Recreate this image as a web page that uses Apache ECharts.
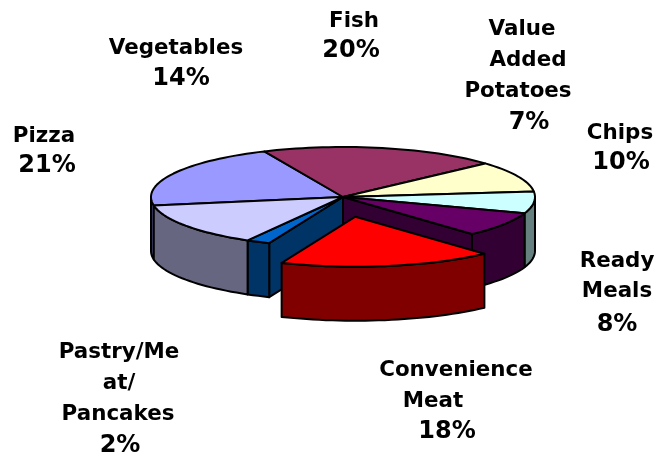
<!DOCTYPE html>
<html><head><meta charset="utf-8">
<style>html,body{margin:0;padding:0;background:#fff}#c{width:657px;height:459px}</style>
<script src="https://cdn.jsdelivr.net/npm/echarts@6/dist/echarts.min.js"></script>
</head><body><div id="c"></div>
<script>
// Data, clockwise from the first slice drawn
const categories = ['Pizza','Fish','Chips','Value Added Potatoes','Ready Meals','Convenience Meat','Pastry/Meat/ Pancakes','Vegetables'];
const values = [21,20,10,7,8,18,2,14];
const topColors = ['#9999FF','#993366','#FFFFCC','#CCFFFF','#660066','#FF0000','#0066CC','#CCCCFF'];
const wallColors = ['#4D4D80','#4D1A33','#808066','#668080','#330033','#800000','#003366','#666680'];
const explodedName = 'Convenience Meat';

// Label lines as printed in the reference: [text, centre x, centre y]
const labelLines = [
  ['Fish',354,21],['20%',351,51],
  ['Vegetables',176,48],['14%',181,79],
  ['Value',522,29],['Added',528,60],['Potatoes',518,91],['7%',529,123],
  ['Chips',620,133],['10%',621,163],
  ['Pizza',44,136],['21%',47,166],
  ['Ready',617,261],['Meals',617,291],['8%',617,325],
  ['Convenience',456,370],['Meat',433,401],['18%',447,432],
  ['Pastry/Me',119,352],['at/',119,383],['Pancakes',118,414],['2%',120,446]
];

// Layout
const CX=343, CY=198, RX=192, RY=50, DEPTH=54, START=-99.8, EXPLODE=0.38, STROKE=2;
const total = values.reduce((a,b)=>a+b,0);
const rad = d => d*Math.PI/180;
const pt = (o,a,dy) => [o[0]+RX*Math.sin(rad(a)), o[1]-RY*Math.cos(rad(a))+(dy||0)];
const arc = (o,a,b,dy) => { const p=[]; const n=Math.max(2,Math.ceil(Math.abs(b-a)/2)); for(let i=0;i<=n;i++) p.push(pt(o,a+(b-a)*i/n,dy)); return p; };
let acc=START;
const spans = values.map(v=>{const s=acc; acc+=v/total*360; return [s,acc];});
const explodedIdx = categories.indexOf(explodedName);

function poly(points,fill,z2){
  return {type:'polygon',z2,shape:{points},style:{fill,stroke:'#000',lineWidth:STROKE,lineJoin:'round'},silent:true};
}
function renderItem(params){
  const i=params.dataIndex, [a,b]=spans[i], ex=i===explodedIdx, mid=(a+b)/2;
  const o=ex?[CX+EXPLODE*RX*Math.sin(rad(mid)),CY-EXPLODE*RY*Math.cos(rad(mid))]:[CX,CY-1];
  const base=ex?3:1, kids=[];
  const n=values.length;
  const radial=ang=>{const r=pt(o,ang);return poly([[o[0],o[1]],r,[r[0],r[1]+DEPTH],[o[0],o[1]+DEPTH]],wallColors[i],base);};
  if(!ex && (i+1)%n===explodedIdx) kids.push(radial(b));
  if(!ex && (i-1+n)%n===explodedIdx) kids.push(radial(a));
  // visible outer wall: the part of the rim on the near half (90..270 degrees)
  for(const sh of [0,360]){
    const s=Math.max(a+sh,90), e=Math.min(b+sh,270);
    if(e>s){
      const top=arc(o,s,e), bot=arc(o,e,s,DEPTH);
      kids.push(poly(top.concat(bot),wallColors[i],base));
    }
  }
  kids.push(poly([o].concat(arc(o,a,b)),topColors[i],base+1));
  return {type:'group',children:kids};
}
const chart=echarts.init(document.getElementById('c'),null,{renderer:'canvas'});
chart.setOption({
  animation:false,
  backgroundColor:'#fff',
  series:[{type:'custom',coordinateSystem:'none',renderItem,data:values,silent:true}],
  graphic:labelLines.map(([t,x,y])=>({type:'text',x,y,silent:true,style:{text:t,align:'center',verticalAlign:'middle',fill:'#000',font:'bold '+(/%$/.test(t)?24:21.4)+'px "DejaVu Sans"'}}))
});
</script></body></html>
